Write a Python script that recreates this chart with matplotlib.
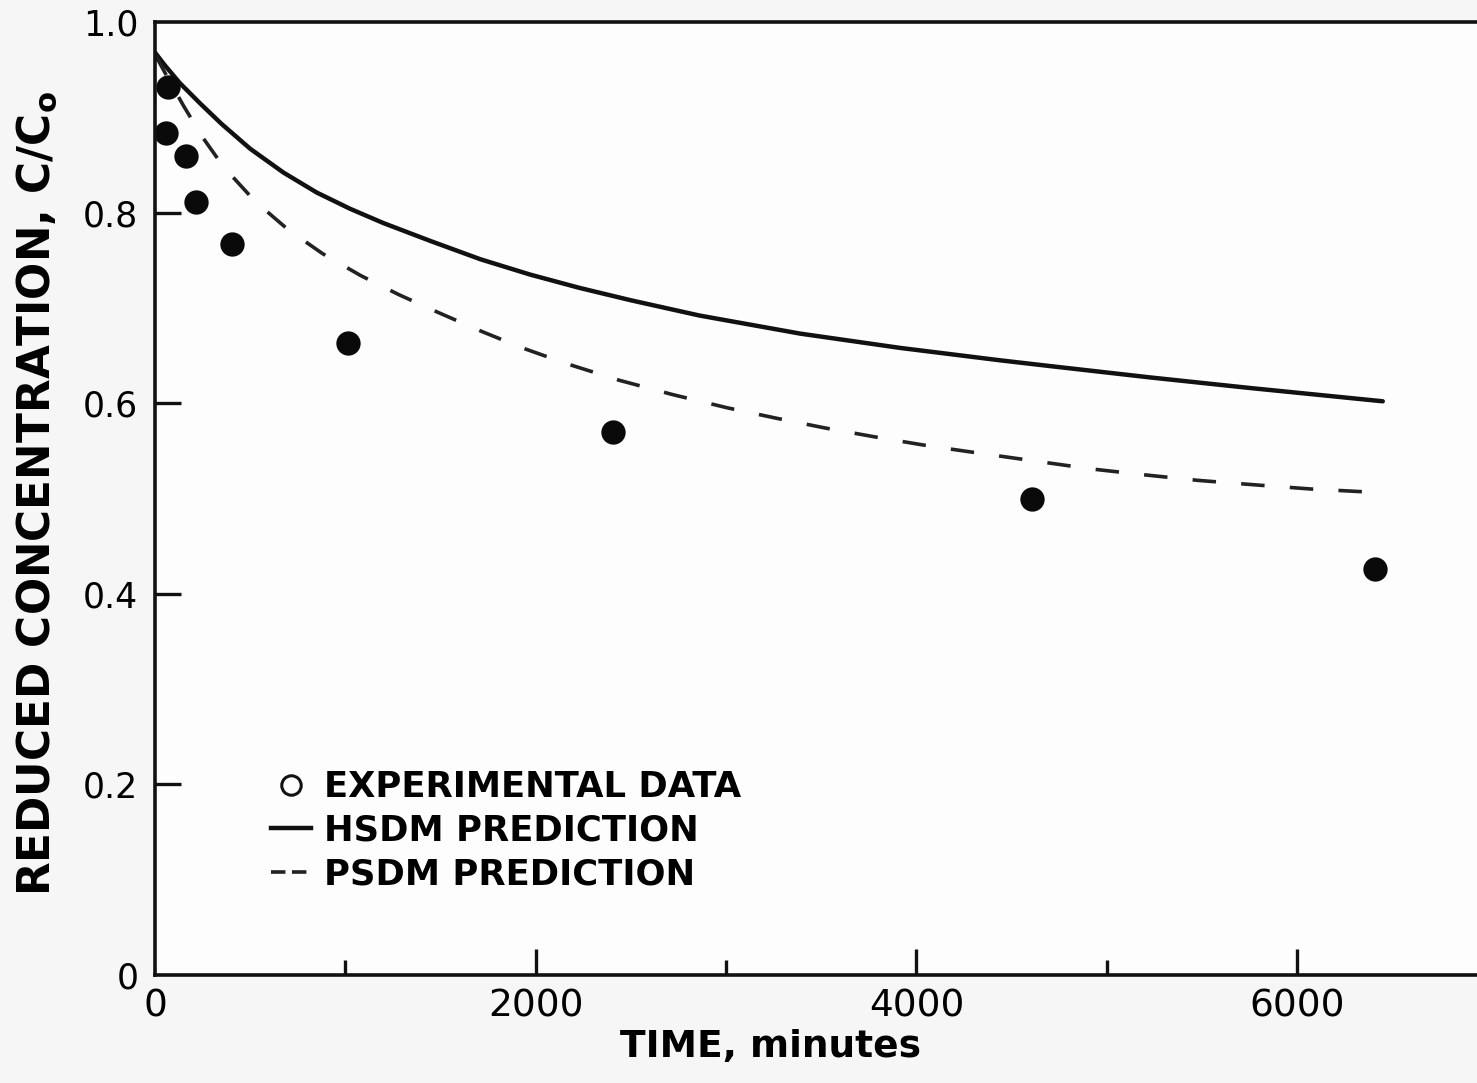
import matplotlib
matplotlib.use("Agg")
import matplotlib.pyplot as plt
from matplotlib.lines import Line2D

# Experimental breakthrough data (time in minutes, C/Co)
exp_time = [68, 58, 163, 215, 405, 1014, 2407, 4608, 6411]
exp_conc = [0.932, 0.884, 0.859, 0.811, 0.767, 0.663, 0.570, 0.499, 0.426]

# HSDM model prediction
hsdm_time = [0, 50, 130, 240, 350, 500, 675, 850, 1025, 1200, 1450, 1710,
             1970, 2230, 2500, 2860, 3390, 3915, 4440, 4700, 5230, 5750, 6450]
hsdm_conc = [0.968, 0.955, 0.936, 0.914, 0.893, 0.867, 0.842, 0.821, 0.804,
             0.789, 0.770, 0.751, 0.735, 0.721, 0.708, 0.692, 0.673, 0.658,
             0.645, 0.639, 0.627, 0.616, 0.602]

# PSDM model prediction
psdm_time = [0, 60, 150, 250, 360, 525, 700, 880, 1080, 1280, 1490, 1720,
             1930, 2170, 2440, 2720, 3010, 3270, 3520, 3800, 4070, 4350,
             4670, 4920, 5190, 5480, 5800, 6070, 6450]
psdm_conc = [0.966, 0.944, 0.912, 0.879, 0.848, 0.812, 0.782, 0.757, 0.734,
             0.714, 0.695, 0.675, 0.658, 0.641, 0.624, 0.609, 0.595, 0.584,
             0.574, 0.564, 0.555, 0.547, 0.538, 0.531, 0.525, 0.519, 0.514,
             0.510, 0.506]

x_ticks = [0, 2000, 4000, 6000]
x_minor = [1000, 3000, 5000]
x_ticklabels = ["0", "2000", "4000", "6000"]
y_ticks = [0, 0.2, 0.4, 0.6, 0.8, 1.0]
y_ticklabels = ["0", "0.2", "0.4", "0.6", "0.8", "1.0"]

plt.rcParams["font.family"] = ["DejaVu Sans"]

fig = plt.figure(figsize=(14.77, 10.83), dpi=100, facecolor="#f6f6f6")
ax = fig.add_axes([155 / 1477, 1 - 975 / 1083, 1 - 155 / 1477, (975 - 22) / 1083])
ax.set_facecolor("#fdfdfd")

ax.plot(hsdm_time, hsdm_conc, color="#111111", lw=3.2, solid_capstyle="round",
        solid_joinstyle="round")
ax.plot(psdm_time, psdm_conc, color="#222222", lw=2.6, dashes=(6.5, 7))
ax.plot(exp_time, exp_conc, "o", color="#0a0a0a", ms=16, mec="#0a0a0a", mew=1.5)

ax.set_xlim(0, 6945)
ax.set_ylim(0, 1.0)

ax.spines["right"].set_visible(False)
for s in ("left", "bottom", "top"):
    ax.spines[s].set_linewidth(2.6)
    ax.spines[s].set_color("#111111")

ax.set_xticks(x_ticks)
ax.set_xticklabels(x_ticklabels)
ax.set_xticks(x_minor, minor=True)
ax.set_yticks(y_ticks)
ax.set_yticklabels(y_ticklabels)
ax.tick_params(axis="both", which="major", direction="in", length=19, width=2.4,
               color="#111111")
ax.tick_params(axis="both", which="minor", direction="in", length=11, width=2.4,
               color="#111111")
ax.tick_params(axis="x", labelsize=27, pad=10)
ax.tick_params(axis="y", labelsize=25, pad=12)
ax.yaxis.get_major_ticks()[0].tick1line.set_visible(False)
ax.yaxis.get_major_ticks()[-1].tick1line.set_visible(False)
ax.xaxis.get_major_ticks()[0].tick1line.set_visible(False)

ax.set_xlabel("TIME, minutes", fontsize=27, fontweight="bold")
ax.xaxis.set_label_coords((771 - 155) / (1477 - 155), -0.057)
ax.set_ylabel(r"REDUCED CONCENTRATION, C/C$_{\mathbf{o}}$", fontsize=31.5,
              fontweight="bold")
ax.yaxis.set_label_coords((59 - 155) / (1477 - 155), 0.505)

handles = [
    Line2D([], [], ls="none", marker="o", ms=14, mfc="none", mec="#111111", mew=2.2),
    Line2D([], [], color="#111111", lw=3.2),
    Line2D([], [], color="#222222", lw=2.6, dashes=(4, 1.8)),
]
labels = ["EXPERIMENTAL DATA", "HSDM PREDICTION", "PSDM PREDICTION"]
leg = ax.legend(handles, labels, loc="upper left", frameon=False,
                bbox_to_anchor=(271 / 1477, 1 - 770 / 1083),
                bbox_transform=fig.transFigure,
                prop={"weight": "bold", "size": 25.5},
                handlelength=1.13, handletextpad=0.37, labelspacing=0.27,
                borderpad=0, borderaxespad=0)

fig.savefig("out.png", dpi=100, facecolor=fig.get_facecolor())
